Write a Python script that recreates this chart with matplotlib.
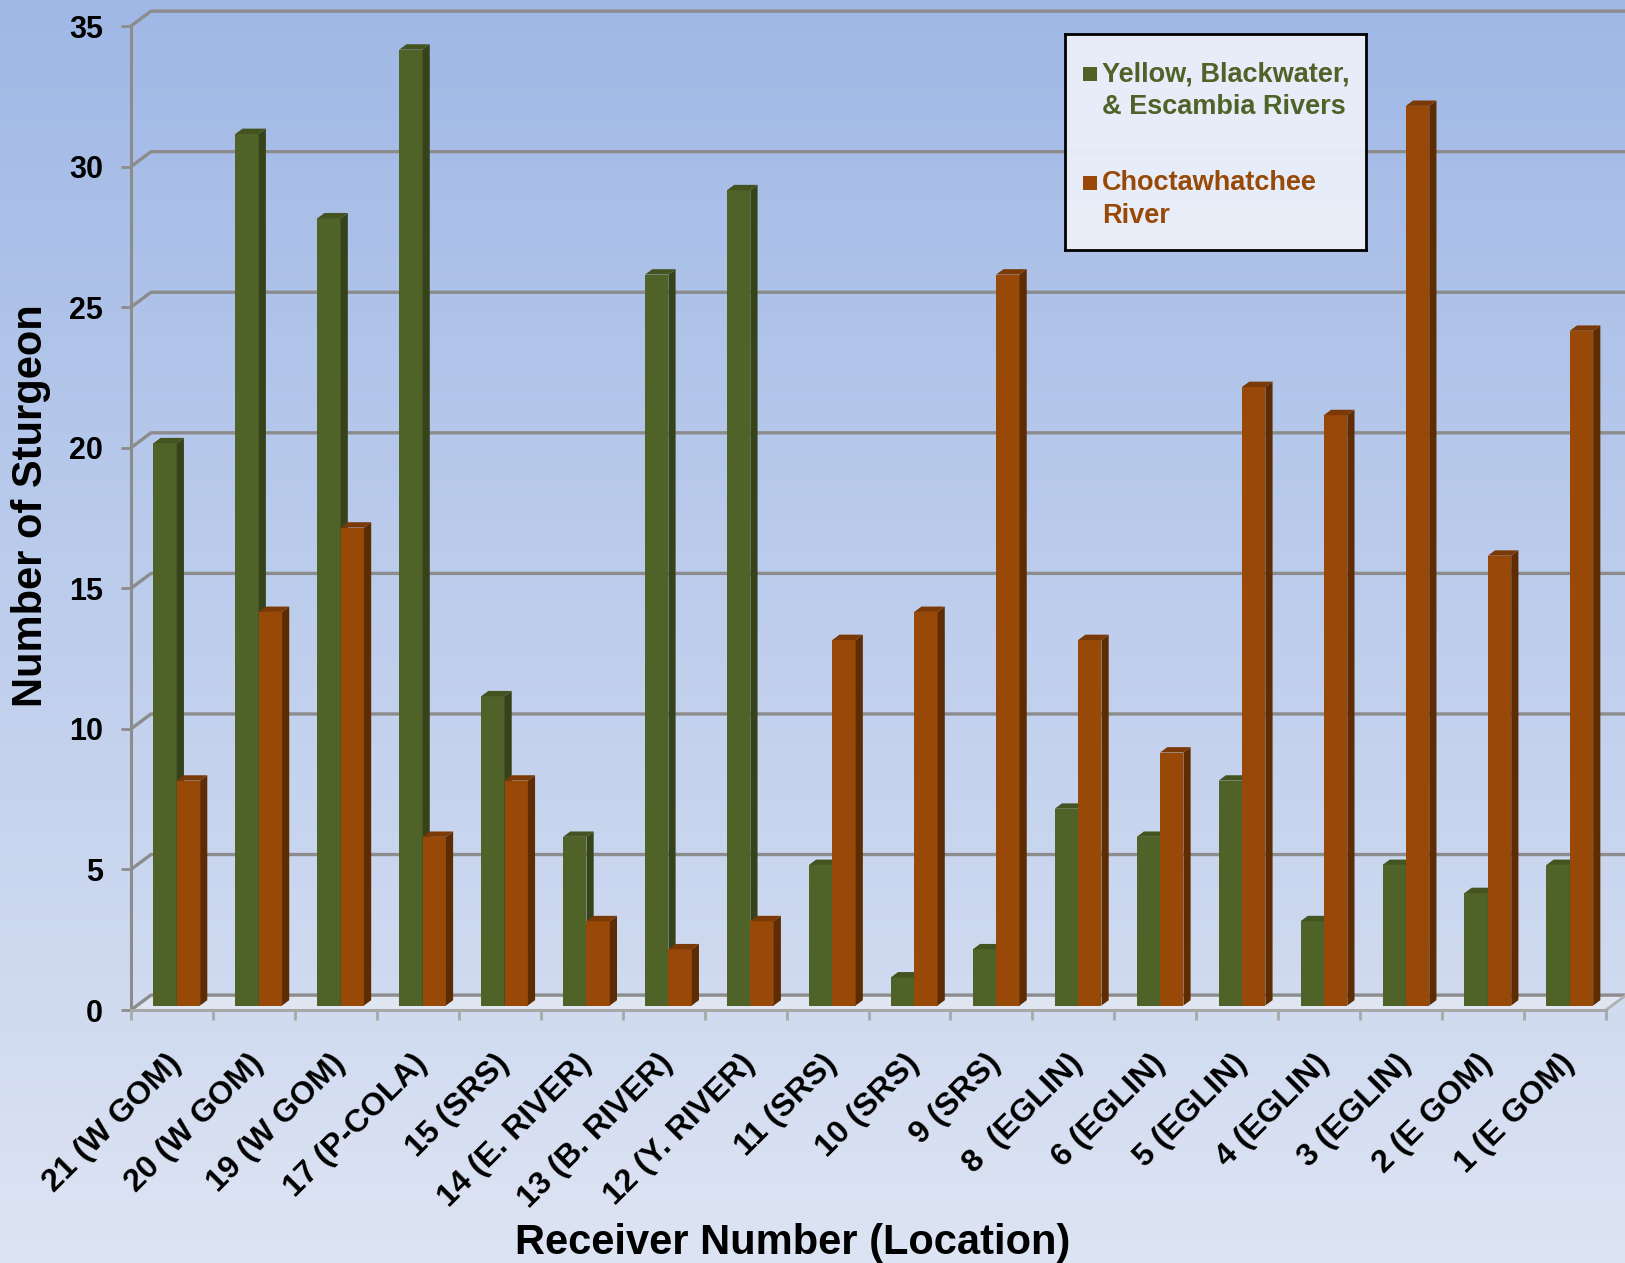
import numpy as np
import matplotlib.pyplot as plt
from matplotlib.patches import Rectangle, Polygon
from matplotlib.colors import LinearSegmentedColormap

plt.rcParams['font.family'] = ['Liberation Sans', 'DejaVu Sans']

receivers = ['21 (W GOM)', '20 (W GOM)', '19 (W GOM)', '17 (P-COLA)', '15 (SRS)',
             '14 (E. RIVER)', '13 (B. RIVER)', '12 (Y. RIVER)', '11 (SRS)', '10 (SRS)',
             '9 (SRS)', '8  (EGLIN)', '6 (EGLIN)', '5 (EGLIN)', '4 (EGLIN)',
             '3 (EGLIN)', '2 (E GOM)', '1 (E GOM)']
yellow_blackwater = [20, 31, 28, 34, 11, 6, 26, 29, 5, 1, 2, 7, 6, 8, 3, 5, 4, 5]
choctawhatchee = [8, 14, 17, 6, 8, 3, 2, 3, 13, 14, 26, 13, 9, 22, 21, 32, 16, 24]

series = [
    ('Yellow, Blackwater,\n& Escambia Rivers', yellow_blackwater,
     '#4f6228', '#36431a', '#435421'),
    ('Choctawhatchee\nRiver', choctawhatchee,
     '#984807', '#5e2c03', '#7a3905'),
]

fig = plt.figure(figsize=(16.25, 12.63), dpi=100)

# background gradient
bg = fig.add_axes([0, 0, 1, 1], zorder=-10)
cmap = LinearSegmentedColormap.from_list('bg', ['#a0b8e6', '#dde4f3'])
bg.imshow(np.linspace(0, 1, 256).reshape(-1, 1), aspect='auto', cmap=cmap,
          extent=[0, 1, 0, 1], origin='upper')
bg.axis('off')

W, H = 1625, 1263
x0px, x1px, y0px, y1px = 131, 1606, 1010, 26
ax = fig.add_axes([x0px / W, 1 - y0px / H, (x1px - x0px) / W, (y0px - y1px) / H])
ax.patch.set_alpha(0)
n = len(receivers)
ax.set_xlim(0, n)
ax.set_ylim(0, 35)

grid_c = '#8c8c8c'
wx, wy = 0.244, 0.53  # depth of the 3D box in data units

# floor
ax.add_patch(Polygon([(0, 0), (n, 0), (n + wx, wy), (wx, wy)], closed=True,
                     facecolor='#dfe5f1', edgecolor='none', clip_on=False, zorder=1))

# back wall gridlines with side-wall diagonals
for v in range(0, 36, 5):
    ax.plot([0, wx, n + wx + 1], [v, v + wy, v + wy], color=grid_c, lw=2.4,
            clip_on=False, zorder=2, solid_capstyle='butt')
ax.plot([n, n + wx], [0, wy], color='#b0b0b0', lw=2, clip_on=False, zorder=2)

# bars
f, g = 0.3, 0.36
dx, dy = g * wx, g * wy
w = 0.285
for j, (name, vals, c_front, c_side, c_top) in enumerate(series):
    for i, v in enumerate(vals):
        bx = i + 0.2 + f * wx + j * w
        by = f * wy
        ax.add_patch(Rectangle((bx, by), w, v, facecolor=c_front, edgecolor='none',
                               zorder=3 + j, clip_on=False))
        ax.add_patch(Polygon([(bx + w, by), (bx + w + dx, by + dy),
                              (bx + w + dx, by + v + dy), (bx + w, by + v)],
                             closed=True, facecolor=c_side, edgecolor='none',
                             zorder=3 + j, clip_on=False))
        ax.add_patch(Polygon([(bx, by + v), (bx + dx, by + v + dy),
                              (bx + w + dx, by + v + dy), (bx + w, by + v)],
                             closed=True, facecolor=c_top, edgecolor='none',
                             zorder=3 + j, clip_on=False))

# axes
for s in ['top', 'right']:
    ax.spines[s].set_visible(False)
ax.spines['left'].set_color(grid_c)
ax.spines['left'].set_linewidth(2.2)
ax.spines['bottom'].set_color('#a8a8a8')
ax.spines['bottom'].set_linewidth(2.2)
ax.spines['bottom'].set_zorder(6)

ax.set_yticks(range(0, 36, 5))
ax.tick_params(axis='y', length=7, width=2, color=grid_c, pad=13, labelsize=22)
for t in ax.get_yticklabels():
    t.set_fontweight('bold')
ax.set_xticks([])
ax.set_xticks(range(n + 1), minor=True)
ax.tick_params(axis='x', which='minor', length=7.5, width=2, color='#a8a8a8')

for i, lab in enumerate(receivers):
    ax.text(i + 0.56, -1.75, lab, rotation=45, ha='right', va='center',
            rotation_mode='anchor', fontsize=23, fontweight='bold', clip_on=False)

fig.text(31 / W, 1 - 506 / H, 'Number of Sturgeon', rotation=90, ha='center',
         va='center', fontsize=30, fontweight='bold')
fig.text(793 / W, 1 - 1243 / H, 'Receiver Number (Location)', ha='center',
         va='center', fontsize=30, fontweight='bold')

# legend box
lg = fig.add_axes([1065 / W, 1 - 250 / H, (1366 - 1065) / W, (250 - 34) / H], zorder=10)
lg.set_xlim(1065, 1366)
lg.set_ylim(250, 34)
lg.set_xticks([])
lg.set_yticks([])
lg.patch.set_facecolor('#edf1fa')
lg.patch.set_alpha(0.93)
for s in lg.spines.values():
    s.set_linewidth(2)
    s.set_color('black')
for (name, vals, c_front, c_side, c_top), yc in zip(series, [74, 183]):
    lg.add_patch(Rectangle((1083, yc - 7), 14, 14, facecolor=c_front, edgecolor='none'))
    lg.text(1102, yc - 13, name, ha='left', va='top', fontsize=19.5,
            fontweight='bold', color=c_front, linespacing=1.35)

fig.savefig('out.png', dpi=100)
